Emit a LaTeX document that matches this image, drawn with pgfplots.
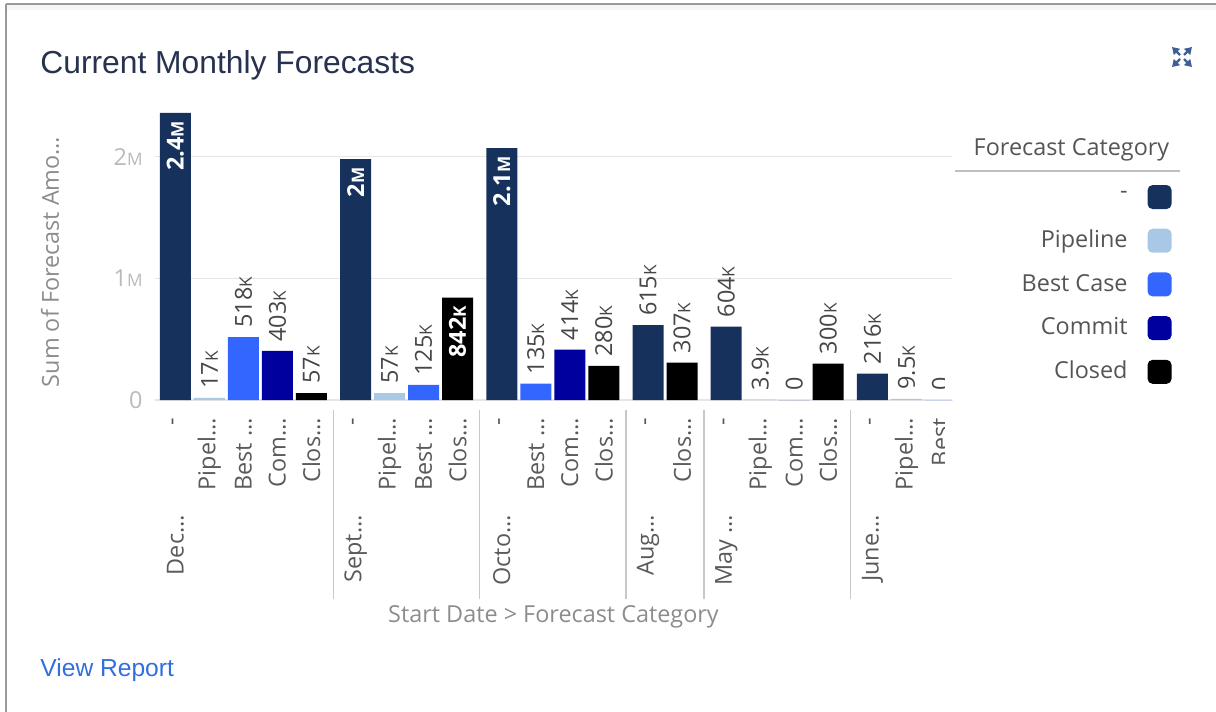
\documentclass[border=0pt]{standalone}
\usepackage{fontspec}
\setmainfont{Open Sans}
\newfontfamily\arialfont{Liberation Sans}
\usepackage{pgfplots}
\pgfplotsset{compat=1.18}
\usetikzlibrary{arrows.meta}

\definecolor{navy}{RGB}{22,50,92}
\definecolor{pipe}{RGB}{168,200,230}
\definecolor{best}{RGB}{51,102,255}
\definecolor{commit}{RGB}{0,0,158}
\definecolor{closedc}{RGB}{0,0,0}
\definecolor{gridc}{RGB}{230,230,230}
\definecolor{ytickc}{RGB}{185,185,185}
\definecolor{xtickc}{RGB}{90,90,90}
\definecolor{valc}{RGB}{70,70,70}
\definecolor{axlabc}{RGB}{140,140,140}
\definecolor{legc}{RGB}{85,85,85}
\definecolor{sepc}{RGB}{200,200,200}
\definecolor{titlec}{RGB}{40,50,80}
\definecolor{linkc}{RGB}{50,110,220}
\definecolor{iconc}{RGB}{60,95,150}

% small K / M as in the dashboard labels
\protected\def\sK{{\fontsize{8.6}{9}\selectfont K}}
\protected\def\sM{{\fontsize{8.6}{9}\selectfont M}}

\begin{document}
\fontsize{11.7}{14}\selectfont
\begin{tikzpicture}
\useasboundingbox (0,0) rectangle (608pt,-356pt);

% frame, title, legend heading, link (1 unit = 1 px of the screenshot)
\begin{scope}[x=0.5pt,y=-0.5pt]
  \fill[black!4] (6,5) rectangle (1216,10);
  \draw[black!40, line width=1pt] (6,4) -- (1216,4);
  \draw[black!40, line width=1pt] (6,4) -- (6,712);
  \node[anchor=base west, inner sep=0pt, text=titlec,
        font=\arialfont\fontsize{15.9}{18}\selectfont] at (40,73) {Current Monthly Forecasts};
  \node[anchor=base west, inner sep=0pt, text=linkc,
        font=\arialfont\fontsize{12.3}{14}\selectfont] at (40,676) {View Report};
  \node[anchor=base, inner sep=0pt, text=legc] at (1071.5,155) {Forecast Category};
  \draw[black!25, line width=1.2pt] (955,171) -- (1180,171);
  \foreach \dx/\dy in {1/1,1/-1,-1/1,-1/-1}
    \draw[iconc, line width=1.2pt, -{Triangle[length=3.5pt,width=4.2pt]}]
      (1182+2*\dx,57+2*\dy) -- (1182+10*\dx,57+10*\dy);
\end{scope}

\begin{scope}
% the widget is scrolled: the last column is cut at the right edge
\clip (0pt,10pt) rectangle (472pt,-360pt)
      (472pt,10pt) rectangle (610pt,-185pt)
      (472pt,-197.5pt) rectangle (476.5pt,-202.5pt)
      (500pt,-185pt) rectangle (610pt,-200pt);
\begin{axis}[
  at={(77.5pt,-200pt)}, anchor=south west,
  scale only axis, width=398.5pt, height=149pt,
  xmin=-0.6, xmax=22.84, ymin=0, ymax=2.45e6,
  clip=false,
  axis line style={draw=none},
  major tick length=0pt,
  scaled y ticks=false,
  ymajorgrids, grid style={gridc, line width=0.75pt},
  ytick={0,1e6,2e6}, yticklabels={0,1\sM,2\sM},
  yticklabel style={text=ytickc, anchor=east, inner ysep=0pt, inner xsep=6pt},
  xtick={0,1,2,3,4,5.3,6.3,7.3,8.3,9.6,10.6,11.6,12.6,13.9,14.9,16.2,17.2,18.2,19.2,20.5,21.5,22.5},
  xticklabels={-,Pipel…,Best …,Com…,Clos…,-,Pipel…,Best …,Clos…,-,Best …,Com…,Clos…,-,Clos…,-,Pipel…,Com…,Clos…,-,Pipel…,Best},
  xticklabel style={rotate=90, anchor=east, inner ysep=0pt, inner xsep=9pt, text=xtickc},
  xlabel={Start Date > Forecast Category},
  xlabel style={at={(axis description cs:0.5,0)}, anchor=center, yshift=-108.5pt, text=axlabc},
  ylabel={Sum of Forecast Amo…},
  ylabel style={at={(axis description cs:-0.1317,0.4632)}, anchor=center, text=axlabc},
  legend style={at={(axis description cs:1.276,0.7227)}, anchor=north east,
    draw=none, fill=none, inner sep=0pt, row sep=9.85pt,
    nodes={inner sep=0pt, text=legc}},
  legend cell align=right,
  legend plot pos=right,
  legend image code/.code={
    \path[draw=none, fill=none] (0pt,0pt) rectangle (10pt,0.1pt);
    \fill[#1, draw=none, rounded corners=2.5pt] (10pt,-6pt) rectangle (22pt,6pt);},
]
\addplot[ybar, bar width=15.5pt, bar shift=0pt, fill=navy, draw=none]
  coordinates {(0,2.36e6) (5.3,1.98e6) (9.6,2.07e6) (13.9,615e3) (16.2,604e3) (20.5,216e3)};
\addplot[ybar, bar width=15.5pt, bar shift=0pt, fill=pipe, draw=none]
  coordinates {(1,17e3) (6.3,57e3) (17.2,3.9e3) (21.5,9.5e3)};
\addplot[ybar, bar width=15.5pt, bar shift=0pt, fill=best, draw=none]
  coordinates {(2,518e3) (7.3,125e3) (10.6,135e3) (22.5,0)};
\addplot[ybar, bar width=15.5pt, bar shift=0pt, fill=commit, draw=none]
  coordinates {(3,403e3) (11.6,414e3) (18.2,0)};
\addplot[ybar, bar width=15.5pt, bar shift=0pt, fill=closedc, draw=none]
  coordinates {(4,57e3) (8.3,842e3) (12.6,280e3) (14.9,307e3) (19.2,300e3)};
\legend{-, Pipeline, Best Case, Commit, Closed}

% value labels above the bars
\addplot[forget plot, only marks, mark=*, mark size=0pt, mark options={draw=none,fill=none},
  point meta=explicit symbolic, nodes near coords,
  every node near coord/.append style={rotate=90, anchor=west, inner xsep=4.5pt, inner ysep=0pt, text=valc}]
  coordinates {(1,17e3)[17\sK] (2,518e3)[518\sK] (3,403e3)[403\sK] (4,57e3)[57\sK]
    (6.3,57e3)[57\sK] (7.3,125e3)[125\sK] (10.6,135e3)[135\sK] (11.6,414e3)[414\sK]
    (12.6,280e3)[280\sK] (13.9,615e3)[615\sK] (14.9,307e3)[307\sK] (16.2,604e3)[604\sK]
    (17.2,3.9e3)[3.9\sK] (18.2,0)[0] (19.2,300e3)[300\sK] (20.5,216e3)[216\sK]
    (21.5,9.5e3)[9.5\sK] (22.5,0)[0]};
% value labels inside the tall bars
\addplot[forget plot, only marks, mark=*, mark size=0pt, mark options={draw=none,fill=none},
  point meta=explicit symbolic, nodes near coords,
  every node near coord/.append style={rotate=90, anchor=east, inner xsep=4pt, inner ysep=0pt,
    text=white, font=\bfseries}]
  coordinates {(0,2.36e6)[2.4\sM] (5.3,1.98e6)[2\sM] (9.6,2.07e6)[2.1\sM] (8.3,842e3)[842\sK]};

% second level of the category axis: months and group separators
\node[rotate=90, anchor=east, inner sep=0pt, text=xtickc] at ([yshift=-57.5pt]axis cs:0,0) {Dec…};
\node[rotate=90, anchor=east, inner sep=0pt, text=xtickc] at ([yshift=-57.5pt]axis cs:5.3,0) {Sept…};
\node[rotate=90, anchor=east, inner sep=0pt, text=xtickc] at ([yshift=-57.5pt]axis cs:9.6,0) {Octo…};
\node[rotate=90, anchor=east, inner sep=0pt, text=xtickc] at ([yshift=-57.5pt]axis cs:13.9,0) {Aug…};
\node[rotate=90, anchor=east, inner sep=0pt, text=xtickc] at ([yshift=-57.5pt]axis cs:16.2,0) {May …};
\node[rotate=90, anchor=east, inner sep=0pt, text=xtickc] at ([yshift=-57.5pt]axis cs:20.5,0) {June…};
\pgfplotsinvokeforeach{4.65,8.95,13.25,15.55,19.85}{
  \draw[sepc, line width=0.75pt] ([yshift=-5pt]axis cs:#1,0) -- ([yshift=-99.5pt]axis cs:#1,0);
}
\end{axis}
\end{scope}
\end{tikzpicture}
\end{document}
